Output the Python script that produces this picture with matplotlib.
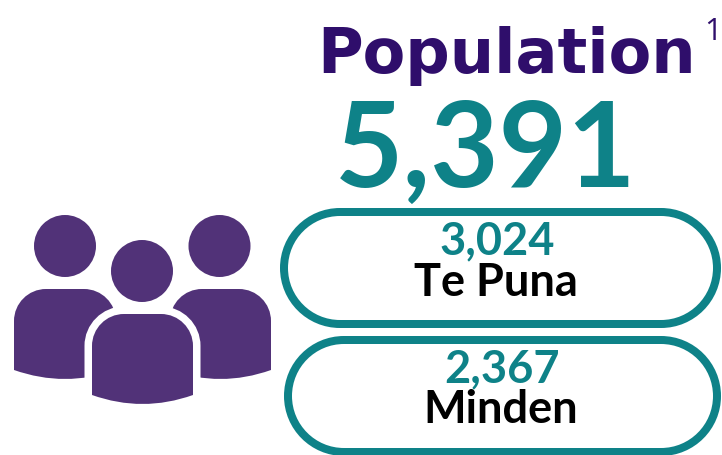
import matplotlib
matplotlib.use('Agg')
import matplotlib.pyplot as plt
from matplotlib.patches import Circle, PathPatch
from matplotlib.path import Path

total_label = 'Population'
note_mark = '1'
total_value = '5,391'
places = ['Te Puna', 'Minden']
place_values = ['3,024', '2,367']

teal = '#0e8288'
dark_purple = '#2f0e6b'
icon_purple = '#513278'
K = 0.5523  # bezier circle constant

fig = plt.figure(figsize=(7.22, 4.55), dpi=100)
ax = fig.add_axes([0, 0, 1, 1])
ax.set_xlim(0, 722)
ax.set_ylim(455, 0)
ax.axis('off')


def body_path(left, right, top, side_y, mid_y, r=32):
    c = r * (1 - K)
    cx = (left + right) / 2
    verts = [(left, side_y), (left, top + r),
             (left, top + c), (left + c, top), (left + r, top),
             (right - r, top),
             (right - c, top), (right, top + c), (right, top + r),
             (right, side_y),
             (cx, 2 * mid_y - side_y), (left, side_y),
             (left, side_y)]
    codes = [Path.MOVETO, Path.LINETO,
             Path.CURVE4, Path.CURVE4, Path.CURVE4,
             Path.LINETO,
             Path.CURVE4, Path.CURVE4, Path.CURVE4,
             Path.LINETO,
             Path.CURVE3, Path.CURVE3,
             Path.CLOSEPOLY]
    return Path(verts, codes)


def pill_path(x0, x1, y0, y1):
    r = (y1 - y0) / 2
    c = r * (1 - K)
    verts = [(x0 + r, y0), (x1 - r, y0),
             (x1 - c, y0), (x1, y0 + c), (x1, y0 + r),
             (x1, y1 - c), (x1 - c, y1), (x1 - r, y1),
             (x0 + r, y1),
             (x0 + c, y1), (x0, y1 - c), (x0, y0 + r),
             (x0, y0 + c), (x0 + c, y0), (x0 + r, y0),
             (x0 + r, y0)]
    codes = [Path.MOVETO, Path.LINETO,
             Path.CURVE4, Path.CURVE4, Path.CURVE4,
             Path.CURVE4, Path.CURVE4, Path.CURVE4,
             Path.LINETO,
             Path.CURVE4, Path.CURVE4, Path.CURVE4,
             Path.CURVE4, Path.CURVE4, Path.CURVE4,
             Path.CLOSEPOLY]
    return Path(verts, codes)


# people icon
for cx, left, right in [(65, 14, 116), (219.5, 170, 271)]:
    ax.add_patch(PathPatch(body_path(left, right, 289, 370, 379), fc=icon_purple, ec='none', zorder=2))
    ax.add_patch(Circle((cx, 246), 31, fc=icon_purple, ec='none', zorder=2))

front = body_path(92, 193, 314, 395, 404)
ax.add_patch(PathPatch(front, fc='white', ec='white', lw=10.8, zorder=3))
ax.add_patch(PathPatch(front, fc=icon_purple, ec='none', zorder=4))
ax.add_patch(Circle((142, 271), 31, fc=icon_purple, ec='none', zorder=4))

# header
ax.text(317, 73, total_label, color=dark_purple, fontsize=44.8, fontweight='bold',
        family='DejaVu Sans', va='baseline', ha='left')
ax.text(704, 40, note_mark, color=dark_purple, fontsize=22, family='Open Sans',
        va='baseline', ha='left')
ax.text(486, 187, total_value, color=teal, fontsize=85, fontweight='bold',
        family='Lato', va='baseline', ha='center')

# place pills
pills = [(284, 717, 212, 324), (288, 717, 340, 452)]
value_pos = [(497, 254), (502, 382)]
name_pos = [(496, 296), (501, 423)]
for box, name, val, vp, np_ in zip(pills, places, place_values, value_pos, name_pos):
    ax.add_patch(PathPatch(pill_path(*box), fc='white', ec=teal, lw=5.76, clip_on=False))
    ax.text(vp[0], vp[1], val, color=teal, fontsize=32.5, fontweight='bold',
            family='Lato', va='baseline', ha='center')
    ax.text(np_[0], np_[1], name, color='black', fontsize=32.5, fontweight='bold',
            family='Lato', va='baseline', ha='center')

fig.savefig('out.png', dpi=100)
